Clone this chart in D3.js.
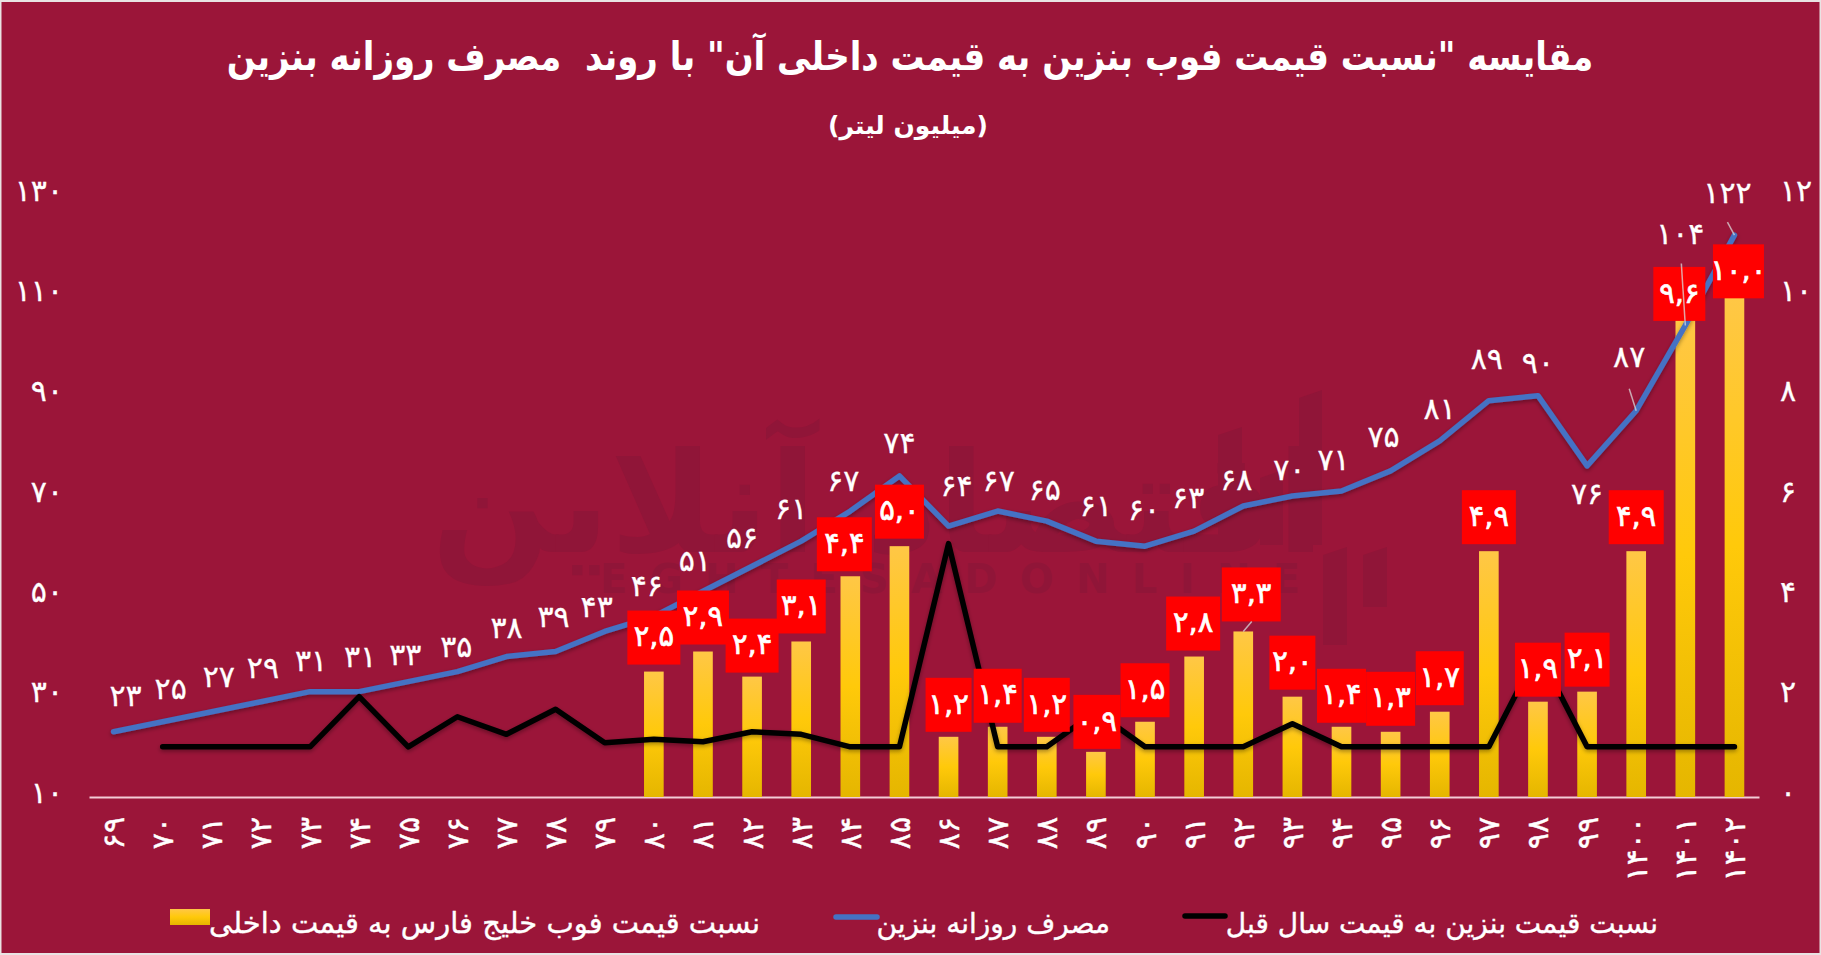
<!DOCTYPE html>
<html>
<head>
<meta charset="utf-8">
<script src="https://cdn.jsdelivr.net/npm/d3@7"></script>
<style>
  html, body { margin: 0; padding: 0; background: #e9e3e3; overflow: hidden; }
  svg { display: block; }
  text { font-family: "DejaVu Sans", sans-serif; fill: #fff; white-space: pre; }
</style>
</head>
<body>
<svg id="chart" width="1821" height="955"></svg>
<script>
var width = 1821;
var height = 955;

// *****************************************************
// ** data
// *****************************************************

var years = [69, 70, 71, 72, 73, 74, 75, 76, 77, 78, 79, 80, 81, 82, 83, 84, 85, 86, 87, 88, 89, 90, 91, 92, 93, 94, 95, 96, 97, 98, 99, 1400, 1401, 1402];
var dailyUse = [23, 25, 27, 29, 31, 31, 33, 35, 38, 39, 43, 46, 51, 56, 61, 67, 74, 64, 67, 65, 61, 60, 63, 68, 70, 71, 75, 81, 89, 90, 76, 87, 104, 122];
var yearOnYear = [null, 1, 1, 1, 1, 2, 1, 1.6, 1.25, 1.75, 1.08, 1.15, 1.1, 1.3, 1.25, 1, 1, 5.05, 1, 1, 1.7, 1, 1, 1, 1.46, 1, 1, 1, 1, 2.9, 1, 1, 1, 1];
var barYears = [80, 81, 82, 83, 84, 85, 86, 87, 88, 89, 90, 91, 92, 93, 94, 95, 96, 97, 98, 99, 1400, 1401, 1402];
var fobRatio = [2.5, 2.9, 2.4, 3.1, 4.4, 5, 1.2, 1.4, 1.2, 0.9, 1.5, 2.8, 3.3, 2, 1.4, 1.3, 1.7, 4.9, 1.9, 2.1, 4.9, 9.6, 10];
var leftTicks = [10, 30, 50, 70, 90, 110, 130];
var rightTicks = [0, 2, 4, 6, 8, 10, 12];

var titleText = 'مقایسه "نسبت قیمت فوب بنزین به قیمت داخلی آن" با روند  مصرف روزانه بنزین';
var subtitleText = '(میلیون لیتر)';
var legendBar = 'نسبت قیمت فوب خلیج فارس به قیمت داخلی';
var legendBlue = 'مصرف روزانه بنزین';
var legendBlack = 'نسبت قیمت بنزین به قیمت سال قبل';

// hand placement of the labels, same way they were dragged around in the original
var useLabelDx = [12, 8, 7, 2, 1, 1, -3, -1, 0, -2, -8, -7, -8, -10, -10, -7, 0, 8, 1, -2, 0, -1, -6, -7, -3, -8, -7, 0, -2, 0, 0, -7, -5, -7];
var useLabelDy = [-36, -33, -35, -34, -31, -35, -27, -25, -29, -35, -25, -31, -31, -29, -33, -31, -33, -41, -31, -32, -36, -37, -34, -27, -27, -31, -34, -32, -42, -33, 28, -54, -92, -43];
var boxDx = [0, 0, 0, 0, -6, 0, 0, 0, 0, 1, 0, -1, 8, 0, 0, 0, 0, 0, 0, 0, 0, -6, 4];
var boxGap = [7, 7, 4, 8, 5, 7.5, 5, 4, 5, 3, 4.5, 6, 10, 7, 4, 6, 6.5, 7, 5, 5, 7, -5.5, -3];
var boxWidth = [53, 52, 53, 49, 55, 49, 46, 48, 46, 47, 49, 54, 59, 46, 49, 49, 48, 54, 46, 45, 55, 52, 51];
var boxHeight = 54;

// *****************************************************
// ** scales
// *****************************************************

var toFa = v => String(v).replace(/\d/g, d => '۰۱۲۳۴۵۶۷۸۹'[d]);
var toFaDec = v => toFa(d3.format('.1f')(v).replace('.', ','));

var x = d3.scaleBand().domain(years).range([89, 1759]).paddingInner(0.6).paddingOuter(0.3);
var yUse = d3.scaleLinear().domain([10, 130]).range([797, 195]);
var yRatio = d3.scaleLinear().domain([0, 12]).range([797, 195]);
var xMid = v => x(v) + x.bandwidth() / 2;

var svg = d3.select('#chart');
var defs = svg.append('defs');

var grad = defs.append('linearGradient').attr('id', 'gold').attr('x1', 0).attr('y1', 0).attr('x2', 0).attr('y2', 1);
grad.append('stop').attr('offset', '0%').attr('stop-color', '#ffc746');
grad.append('stop').attr('offset', '50%').attr('stop-color', '#ffc90a');
grad.append('stop').attr('offset', '100%').attr('stop-color', '#e5b600');

var shadow = defs.append('filter').attr('id', 'shade').attr('x', '-5%').attr('y', '-10%').attr('width', '110%').attr('height', '125%');
shadow.append('feDropShadow').attr('dx', 0).attr('dy', 2).attr('stdDeviation', 2).attr('flood-color', '#000').attr('flood-opacity', 0.35);

svg.append('rect').attr('x', 1.5).attr('y', 2).attr('width', width - 3).attr('height', height - 4).attr('fill', '#9b1539');

// *****************************************************
// ** watermark
// *****************************************************

var mark = svg.append('g').attr('class', 'watermark').attr('fill', '#901538');
mark.append('text')
  .attr('x', 878).attr('y', 552)
  .attr('text-anchor', 'middle')
  .attr('font-size', 140).attr('font-weight', 'bold')
  .style('fill', '#901538')
  .text('اقتصاد آنلاین');
mark.append('text')
  .attr('x', 950).attr('y', 593)
  .attr('text-anchor', 'middle')
  .attr('font-size', 40).attr('font-weight', 'bold')
  .attr('textLength', 700)
  .style('fill', '#901538')
  .text('EGHTESADONLINE');
[[1218, 1242, 427, 545], [1260, 1283, 470, 545], [1299, 1322, 390, 545], [1323, 1347, 547, 645], [1363, 1387, 547, 607]].forEach(b => {
  mark.append('path').attr('d', `M${b[0]},${b[3]}V${b[2] + 8}L${b[1]},${b[2]}V${b[3]}Z`);
});

// *****************************************************
// ** axes
// *****************************************************

var bottomAxis = svg.append('g')
  .attr('transform', 'translate(0,797)')
  .call(d3.axisBottom(x).tickSize(0).tickSizeOuter(0).tickFormat(toFa));
bottomAxis.select('.domain').attr('stroke', '#f3ccd6').attr('stroke-width', 2);
bottomAxis.selectAll('text')
  .attr('transform', 'rotate(-90)')
  .attr('text-anchor', 'end')
  .attr('x', -20).attr('y', 0).attr('dy', '.35em')
  .attr('font-size', 30)
  .attr('stroke', '#fff').attr('stroke-width', 0.4);

var leftAxis = svg.append('g')
  .attr('transform', 'translate(63,0)')
  .call(d3.axisLeft(yUse).tickValues(leftTicks).tickSize(0).tickPadding(0).tickFormat(toFa));
leftAxis.select('.domain').remove();
leftAxis.selectAll('text').attr('dy', 5).attr('font-size', 30).attr('stroke', '#fff').attr('stroke-width', 0.3);

var rightAxis = svg.append('g')
  .attr('transform', 'translate(1780,0)')
  .call(d3.axisRight(yRatio).tickValues(rightTicks).tickSize(0).tickPadding(0).tickFormat(toFa));
rightAxis.select('.domain').remove();
rightAxis.selectAll('text').attr('dy', 5).attr('font-size', 30).attr('stroke', '#fff').attr('stroke-width', 0.3);

// *****************************************************
// ** bars and lines
// *****************************************************

svg.append('g').selectAll('rect').data(fobRatio).join('rect')
  .attr('x', (d, i) => x(barYears[i]))
  .attr('y', d => yRatio(d))
  .attr('width', x.bandwidth())
  .attr('height', d => 797 - yRatio(d))
  .attr('fill', 'url(#gold)');

var useLine = d3.line().x((d, i) => xMid(years[i])).y(d => yUse(d));
var ratioLine = d3.line().defined(d => d !== null).x((d, i) => xMid(years[i])).y(d => yRatio(d));

svg.append('path').datum(dailyUse)
  .attr('d', useLine)
  .attr('fill', 'none').attr('stroke', '#4472c4').attr('stroke-width', 5.5)
  .attr('stroke-linecap', 'round').attr('stroke-linejoin', 'round')
  .attr('filter', 'url(#shade)');

svg.append('path').datum(yearOnYear)
  .attr('d', ratioLine)
  .attr('fill', 'none').attr('stroke', '#000').attr('stroke-width', 5.5)
  .attr('stroke-linecap', 'round').attr('stroke-linejoin', 'round')
  .attr('filter', 'url(#shade)');

// *****************************************************
// ** labels
// *****************************************************

var boxes = svg.append('g').selectAll('g').data(fobRatio).join('g')
  .attr('transform', (d, i) => 'translate(' + (xMid(barYears[i]) + boxDx[i]) + ',' + (yRatio(d) - boxGap[i] - boxHeight / 2) + ')');
boxes.append('rect')
  .attr('x', (d, i) => -boxWidth[i] / 2)
  .attr('y', -boxHeight / 2)
  .attr('width', (d, i) => boxWidth[i])
  .attr('height', boxHeight)
  .attr('fill', '#ff0000');

// thin grey leader lines from the moved labels back to their points
var leaderFrom = [[92, 3.3, 8.5, -10], [1401, 104, -4, -62], [1400, 87, -7, -22], [1402, 122, -7, -13]];
svg.append('g').selectAll('line').data(leaderFrom).join('line')
  .attr('x1', d => xMid(d[0]) + d[2])
  .attr('y1', d => (d[0] === 92 ? yRatio(d[1]) : yUse(d[1])) + d[3])
  .attr('x2', d => xMid(d[0]))
  .attr('y2', d => (d[0] === 92 ? yRatio(d[1]) : yUse(d[1])))
  .attr('stroke', '#d9d9d9').attr('stroke-opacity', 0.75).attr('stroke-width', 1.5);

boxes.append('text')
  .attr('text-anchor', 'middle').attr('dy', '.3em')
  .attr('font-size', 29)
  .attr('stroke', '#fff').attr('stroke-width', 0.7)
  .text(toFaDec);

svg.append('g').selectAll('text').data(dailyUse).join('text')
  .attr('x', (d, i) => xMid(years[i]) + useLabelDx[i])
  .attr('y', (d, i) => yUse(d) + useLabelDy[i])
  .attr('dy', '.35em')
  .attr('text-anchor', 'middle')
  .attr('font-size', 30)
  .attr('stroke', '#fff').attr('stroke-width', 0.3)
  .text(toFa);

// *****************************************************
// ** titles and legend
// *****************************************************

// the original face is narrower and taller than DejaVu, so squeeze it a little
svg.append('text')
  .attr('transform', 'translate(910,70) scale(0.87,1)')
  .attr('text-anchor', 'middle')
  .attr('font-size', 39).attr('font-weight', 'bold')
  .attr('direction', 'rtl')
  .text(titleText);

svg.append('text')
  .attr('x', 908).attr('y', 134)
  .attr('text-anchor', 'middle')
  .attr('font-size', 25).attr('font-weight', 'bold')
  .attr('direction', 'rtl')
  .text(subtitleText);

var legend = svg.append('g').attr('font-size', 28);
legend.append('rect').attr('x', 170).attr('y', 909).attr('width', 40).attr('height', 16).attr('fill', 'url(#gold)');
legend.append('text').attr('x', 760).attr('y', 933).attr('text-anchor', 'start').attr('direction', 'rtl').attr('font-size', 29).attr('stroke', '#fff').attr('stroke-width', 0.4).text(legendBar);
legend.append('line').attr('x1', 836).attr('x2', 877).attr('y1', 917).attr('y2', 917)
  .attr('stroke', '#4472c4').attr('stroke-width', 5.5).attr('stroke-linecap', 'round');
legend.append('text').attr('x', 1110).attr('y', 933).attr('text-anchor', 'start').attr('direction', 'rtl').attr('stroke', '#fff').attr('stroke-width', 0.4).text(legendBlue);
legend.append('line').attr('x1', 1185).attr('x2', 1225).attr('y1', 916).attr('y2', 916)
  .attr('stroke', '#000').attr('stroke-width', 5.5).attr('stroke-linecap', 'round');
legend.append('text').attr('x', 1658).attr('y', 933).attr('text-anchor', 'start').attr('direction', 'rtl').attr('stroke', '#fff').attr('stroke-width', 0.4).text(legendBlack);
</script>
</body>
</html>
